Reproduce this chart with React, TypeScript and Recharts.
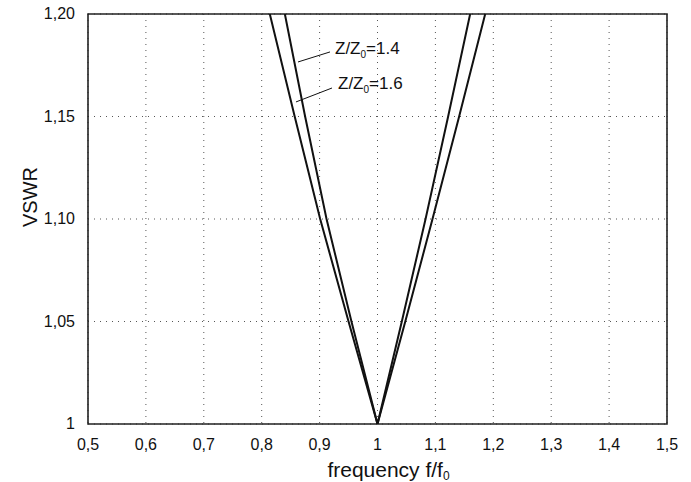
import React from "react";
import {
  LineChart,
  Line,
  XAxis,
  YAxis,
  CartesianGrid,
  ReferenceArea,
  ReferenceLine,
  ReferenceDot,
} from "recharts";

// Data
const xTicks = [0.5, 0.6, 0.7, 0.8, 0.9, 1, 1.1, 1.2, 1.3, 1.4, 1.5];
const yTicks = [1, 1.05, 1.1, 1.15, 1.2];
const xTickLabels = ["0,5", "0,6", "0,7", "0,8", "0,9", "1", "1,1", "1,2", "1,3", "1,4", "1,5"];
const yTickLabels = ["1", "1,05", "1,10", "1,15", "1,20"];

// Z/Z0 = 1.4 (inner curve)
const freqZ14 = [0.84, 0.875, 0.912, 0.955, 1.0, 1.042, 1.083, 1.122, 1.16];
const vswrZ14 = [1.2, 1.15, 1.1, 1.05, 1.0, 1.05, 1.1, 1.15, 1.2];
// Z/Z0 = 1.6 (outer curve)
const freqZ16 = [0.814, 0.857, 0.901, 0.95, 1.0, 1.048, 1.095, 1.141, 1.186];
const vswrZ16 = [1.2, 1.15, 1.1, 1.05, 1.0, 1.05, 1.1, 1.15, 1.2];

const seriesZ14 = freqZ14.map((f, i) => ({ f, v: vswrZ14[i] }));
const seriesZ16 = freqZ16.map((f, i) => ({ f, v: vswrZ16[i] }));

// annotation anchors (data coords)
const leader14 = [
  { x: 0.8627, y: 1.1766 },
  { x: 0.918, y: 1.1815 },
];
const leader16 = [
  { x: 0.8592, y: 1.1571 },
  { x: 0.9214, y: 1.1639 },
];
const text14 = { x: 0.9266, y: 1.1805, label: "1.4" };
const text16 = { x: 0.9318, y: 1.1635, label: "1.6" };

const FONT = "'Liberation Sans', Arial, Helvetica, sans-serif";

const fmtX = (v: number) => {
  const i = xTicks.findIndex((t) => Math.abs(t - v) < 1e-6);
  return i >= 0 ? xTickLabels[i] : String(v);
};
const fmtY = (v: number) => {
  const i = yTicks.findIndex((t) => Math.abs(t - v) < 1e-6);
  return i >= 0 ? yTickLabels[i] : String(v);
};

const zLabel = (value: string) => (props: any) => {
  const vb = props.viewBox || {};
  return (
    <text x={vb.x} y={vb.y} fontFamily={FONT} fontSize={17} fill="#111">
      Z/Z
      <tspan fontSize={10} dy={4}>0</tspan>
      <tspan dy={-4}>={value}</tspan>
    </text>
  );
};

const XTick = (p: any) => (
  <text
    x={p.x}
    y={p.y}
    dy={12}
    textAnchor="middle"
    fontFamily={FONT}
    fontSize={16}
    fill="#111"
  >
    {fmtX(p.payload.value)}
  </text>
);

const YTick = (p: any) => (
  <text
    x={p.x}
    y={p.y}
    dy={5}
    textAnchor="end"
    fontFamily={FONT}
    fontSize={16}
    fill="#111"
  >
    {fmtY(p.payload.value)}
  </text>
);

export default function App() {
  return (
    <div style={{ position: "absolute", left: 0, top: 0, background: "#fff" }}>
      <LineChart
        width={691}
        height={482}
        margin={{ top: 14, right: 24, left: 0, bottom: 0 }}
        style={{ fontFamily: FONT }}
      >
        <CartesianGrid stroke="#555" strokeDasharray="1 5" strokeWidth={1} />
        <XAxis
          type="number"
          dataKey="f"
          domain={[0.5, 1.5]}
          ticks={xTicks}
          allowDataOverflow
          height={58}
          axisLine={false}
          tickLine={false}
          tickSize={0}
          tickMargin={14}
          tick={<XTick />}
          interval={0}
          label={{
            content: (p: any) => {
              const vb = p.viewBox;
              return (
                <text
                  x={vb.x + vb.width / 2 + 11}
                  y={477}
                  textAnchor="middle"
                  fontFamily={FONT}
                  fontSize={21}
                  fill="#111"
                >
                  frequency f/f
                  <tspan fontSize={12} dy={3}>0</tspan>
                </text>
              );
            },
          }}
        />
        <YAxis
          type="number"
          domain={[1, 1.2]}
          ticks={yTicks}
          allowDataOverflow
          width={88}
          axisLine={false}
          tickLine={false}
          tickSize={0}
          tickMargin={13}
          tick={<YTick />}
          interval={0}
          label={{
            content: () => (
              <text
                x={37}
                y={197}
                textAnchor="middle"
                transform="rotate(-90 37 197)"
                fontFamily={FONT}
                fontSize={20}
                fill="#111"
              >
                VSWR
              </text>
            ),
          }}
        />
        <ReferenceArea
          x1={0.5}
          x2={1.5}
          y1={1}
          y2={1.2}
          fill="none"
          stroke="#222"
          strokeWidth={1.6}
          ifOverflow="visible"
        />
        <Line
          data={seriesZ16}
          dataKey="v"
          type="linear"
          stroke="#111"
          strokeWidth={2}
          dot={false}
          isAnimationActive={false}
        />
        <Line
          data={seriesZ14}
          dataKey="v"
          type="linear"
          stroke="#111"
          strokeWidth={2}
          dot={false}
          isAnimationActive={false}
        />
        <ReferenceLine segment={leader14} stroke="#111" strokeWidth={1} ifOverflow="visible" />
        <ReferenceLine segment={leader16} stroke="#111" strokeWidth={1} ifOverflow="visible" />
        <ReferenceDot
          x={text14.x}
          y={text14.y}
          r={0}
          fill="none"
          stroke="none"
          label={{ content: zLabel(text14.label) }}
        />
        <ReferenceDot
          x={text16.x}
          y={text16.y}
          r={0}
          fill="none"
          stroke="none"
          label={{ content: zLabel(text16.label) }}
        />
      </LineChart>
    </div>
  );
}
